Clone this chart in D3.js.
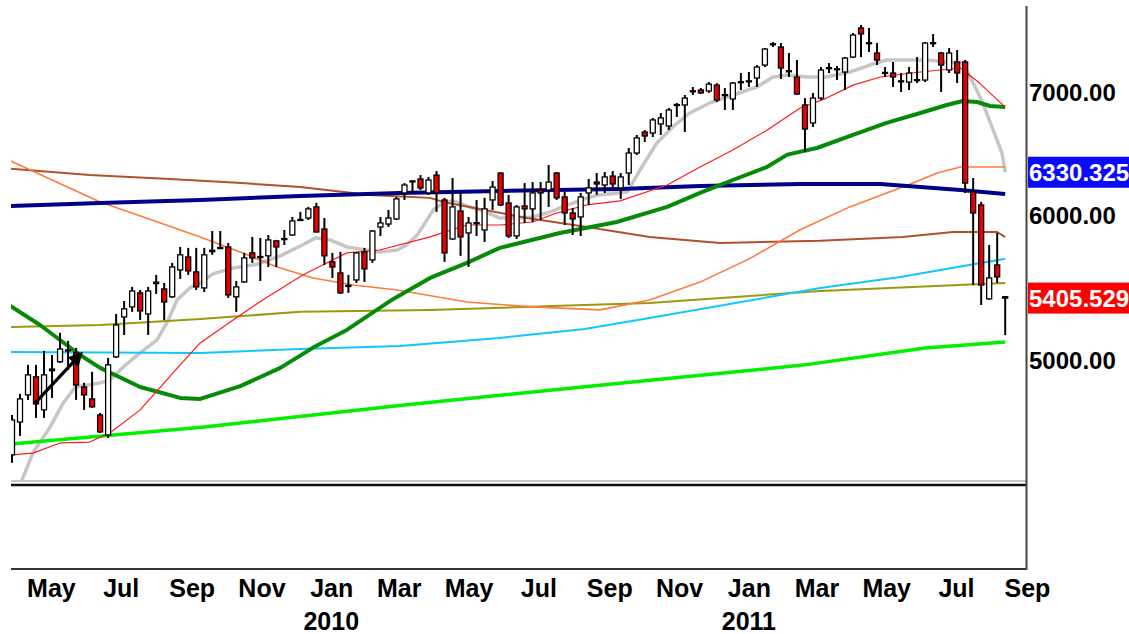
<!DOCTYPE html>
<html>
<head>
<meta charset="utf-8">
<script src="https://cdn.jsdelivr.net/npm/d3@7"></script>
<style>
  body { margin: 0; background: #ffffff; }
  svg { display: block; font-family: "Liberation Sans", Arial, sans-serif; }
</style>
</head>
<body>
<div id="chart"></div>
<script>

// weekly candles: [open, high, low, close]
var candles = [
  [4440,4668,4396,4639],[4627,4793,4547,4763],[4787,4971,4757,4909],[4897,4971,4651,4733],
  [4698,5059,4651,4909],[4945,5033,4769,4935],[4990,5175,4983,5071],[5065,5123,4940,5060],
  [5046,5078,4757,4847],[4835,4860,4698,4787],[4763,4928,4710,4716],[4668,4680,4564,4570],
  [4552,5015,4535,4971],[5021,5299,5015,5226],[5279,5386,5161,5333],[5346,5482,5313,5454],
  [5441,5461,5259,5319],[5299,5482,5161,5454],[5505,5565,5434,5515],[5468,5509,5259,5379],
  [5414,5650,5407,5621],[5600,5764,5537,5707],[5692,5757,5565,5593],[5586,5757,5461,5482],
  [5475,5757,5447,5707],[5730,5880,5707,5740],[5752,5880,5750,5760],[5764,5793,5407,5427],
  [5414,5523,5313,5482],[5516,5721,5510,5685],[5721,5837,5650,5685],[5690,5829,5523,5695],
  [5700,5851,5621,5815],[5808,5815,5621,5764],[5818,5888,5778,5825],[5851,5985,5845,5955],
  [5960,6023,5955,5966],[5977,6061,5962,6046],[6061,6092,5870,5873],[5895,5977,5635,5700],
  [5657,5721,5544,5621],[5579,5728,5434,5441],[5485,5565,5441,5492],[5530,5725,5509,5721],
  [5728,5757,5516,5607],[5671,5888,5650,5880],[5910,5985,5844,5940],[5932,6038,5910,5977],
  [5970,6137,5962,6122],[6168,6245,6114,6230],[6255,6265,6168,6262],[6277,6308,6191,6207],
  [6168,6293,6153,6269],[6308,6340,6023,6168],[6114,6130,5657,5721],[5822,6285,5815,6061],
  [6030,6176,5700,5837],[5866,5985,5621,5940],[5935,6114,5844,5942],[5888,6130,5800,6046],
  [6114,6261,6038,6214],[6324,6330,6068,6076],[6091,6153,5829,5844],[5844,6076,5822,6061],
  [6068,6245,5940,6046],[6046,6253,5947,6168],[6191,6253,5962,6168],[6191,6388,6061,6253],
  [6324,6332,6114,6130],[6137,6176,5925,6015],[6015,6053,5851,5970],[5985,6168,5844,6137],
  [6168,6277,6076,6207],[6253,6324,6153,6238],[6230,6332,6168,6293],[6300,6340,6207,6238],
  [6207,6324,6122,6293],[6324,6526,6230,6485],[6485,6634,6469,6609],[6658,6675,6575,6625],
  [6650,6777,6617,6760],[6726,6819,6634,6777],[6709,6862,6675,6845],[6885,6905,6785,6892],
  [6888,6975,6658,6948],[7005,7045,6975,7012],[7019,7036,6984,6993],[7010,7089,6993,7071],
  [7062,7080,6914,6931],[6970,7036,6845,6978],[6940,7089,6845,7080],[7085,7170,7019,7092],
  [7095,7179,7045,7100],[7125,7242,7045,7224],[7242,7398,7224,7389],[7430,7454,7408,7438],
  [7408,7445,7116,7215],[7185,7352,7134,7190],[7134,7288,6975,6984],[6888,6948,6494,6683],
  [6734,6993,6700,6948],[6948,7224,6931,7197],[7210,7260,7170,7218],[7200,7233,7107,7208],
  [7179,7315,7019,7306],[7315,7539,7306,7520],[7587,7615,7315,7530],[7440,7587,7362,7448],
  [7352,7445,7242,7288],[7168,7224,7134,7175],[7170,7270,7045,7134],[7095,7170,7001,7100],
  [7089,7224,7019,7170],[7105,7315,7080,7110],[7107,7454,7089,7445],[7440,7530,7408,7448],
  [7352,7362,7001,7242],[7197,7398,7170,7352],[7270,7380,7080,7170],[7270,7288,6168,6245],
  [6176,6285,5495,6015],[6076,6099,5359,5495],[5400,5778,5395,5544],[5635,5866,5509,5551],
  [5415,5420,5160,5405.529]
];

// moving averages, [week index, value]
var maGrey = [[0,4230],[1.25,4302],[2.6,4450],[4.7,4593],[6.4,4739],[7.9,4835],[11,4860],[12.2,4878],
  [13.9,4958],[16,5046],[18.1,5129],[19.4,5246],[20.6,5393],[22.2,5475],[23.5,5509],[25.1,5572],
  [27.6,5614],[30.6,5640],[33.5,5700],[36.3,5780],[37.9,5830],[39.7,5815],[41.8,5764],[44.2,5742],
  [45.9,5728],[48.1,5742],[49.3,5780],[50.6,5850],[52.6,6038],[54,6099],[55.1,6107],[56.8,6068],
  [58.8,6030],[60.9,5977],[63,5977],[65,5985],[67.2,6022],[68.4,6053],[71.8,6130],[73.4,6153],
  [76.8,6175],[78.4,6348],[80.5,6567],[82.5,6701],[84.6,6819],[87.1,6905],[90,6975],[93,7045],
  [95,7134],[96.8,7152],[99.3,7134],[101.7,7134],[104.6,7179],[107.1,7242],[109.2,7288],[114.2,7288],
  [116.7,7270],[118.7,7260],[120,7080],[121.2,6905],[122.5,6675],[123.6,6485],[124,6330.325]];

var maRed = [[0,4440],[2.6,4450],[6,4507],[9.7,4512],[12.2,4564],[16,4698],[20.1,4921],[23.5,5110],
  [27.6,5259],[31.3,5393],[36.3,5565],[41.8,5721],[45.9,5742],[52.2,5837],[56.8,5925],[60.9,5925],
  [65,5947],[68,6015],[71.8,6076],[75.9,6107],[81.8,6230],[85.9,6372],[90,6510],[94.3,6675],
  [98.4,6862],[101.7,6948],[105,7062],[108.4,7134],[113.4,7179],[118.4,7215],[120.8,7080],[124,6870]];

var maGreen = [[-0.2,5353],[3.5,5226],[8.5,5033],[11,4952],[16,4835],[21,4769],[23.5,4763],
  [28.5,4840],[33.5,4952],[37.6,5080],[41.8,5194],[47.6,5400],[52.2,5544],[56.8,5650],[60.9,5757],
  [68.4,5866],[75.5,5947],[81.8,6061],[85.9,6168],[90,6269],[94.3,6374],[96.8,6472],[100.5,6526],
  [105,6634],[109.2,6735],[113.4,6819],[116.7,6888],[118.7,6922],[120.5,6914],[122.1,6879],[124,6870]];

var maOrange = [[-0.2,6421],[11,6099],[16.4,5985],[23.5,5837],[28.8,5721],[33.1,5621],[37.6,5544],
  [42.6,5495],[48.1,5461],[56.8,5379],[65,5346],[73.4,5326],[79.6,5393],[85.9,5515],[92.1,5680],
  [98.4,5890],[104.6,6061],[109.2,6168],[112.5,6245],[115.5,6324],[118.4,6372],[124,6372]];

var maBrown = [[-0.2,6358],[9.7,6309],[19.7,6277],[28.7,6245],[36,6214],[44.7,6153],[52.2,6130],
  [53.8,6099],[64.3,5977],[71.8,5910],[79.6,5836],[88.4,5793],[100.9,5808],[111.2,5836],
  [117.5,5873],[123,5873],[124,5836]];

var maNavy = [[-0.2,6068],[11,6091],[23.5,6114],[36,6145],[48.4,6168],[60.9,6184],[75.9,6199],
  [85.9,6222],[98.4,6238],[108.4,6238],[113.4,6214],[118.4,6191],[124,6160]];

var maCyan = [[-0.2,5052],[23.5,5046],[36,5071],[48.4,5090],[60.9,5142],[71.5,5200],[79.6,5272],
  [100.9,5474],[110.9,5551],[124,5679]];

var maOlive = [[-0.2,5213],[11,5226],[23.5,5266],[36,5313],[52.2,5326],[68.4,5353],[79.6,5373],
  [100.9,5454],[124,5509]];

var maLime = [[-0.2,4501],[24,4598],[49,4727],[74,4848],[99,4971],[114,5078],[124,5116]];

// annotation arrow, [week index, value]
var arrowFrom = [2.9, 4739];
var arrowTo = [8.6, 5040];

var yTicks = [5000, 6000, 7000];
var priceFlags = [6330.325, 5405.529];
var monthTicks = ["2009-05","2009-07","2009-09","2009-11","2010-01","2010-03","2010-05",
  "2010-07","2010-09","2010-11","2011-01","2011-03","2011-05","2011-07","2011-09"];
var yearLabels = ["2010", "2011"];

var firstWeek = new Date(2009, 2, 28);
var dayMs = 864e5;

var svgWidth = 1129;
var svgHeight = 634;
var plot = { left: 11, right: 1026, top: 0, bottom: 483 };

var svg = d3.select("#chart")
  .append("svg")
  .attr("width", svgWidth)
  .attr("height", svgHeight);

svg.append("rect")
  .attr("width", svgWidth)
  .attr("height", svgHeight)
  .attr("fill", "#ffffff");

// scales
var x = d3.scaleTime()
  .domain([firstWeek, new Date(firstWeek.getTime() + 124 * 7 * dayMs)])
  .range([12, 1005.2]);

function wx(i) {
  return x(new Date(firstWeek.getTime() + i * 7 * dayMs));
}

var y = d3.scaleLog()
  .domain([4286, 7858])
  .range([plot.bottom, plot.top]);

svg.append("clipPath")
  .attr("id", "clip")
  .append("rect")
  .attr("x", plot.left)
  .attr("y", plot.top)
  .attr("width", plot.right - plot.left)
  .attr("height", 480);

var chartGroup = svg.append("g").attr("clip-path", "url(#clip)");

var line = d3.line()
  .x(d => wx(d[0]))
  .y(d => y(d[1]));

function drawMa(data, color, width) {
  chartGroup.append("path")
    .datum(data)
    .attr("d", line)
    .attr("fill", "none")
    .attr("stroke", color)
    .attr("stroke-width", width)
    .attr("stroke-linejoin", "round");
}

// moving averages under the candles
drawMa(maGrey, "#c6c6c6", 3.5);
drawMa(maLime, "#00f000", 3.5);
drawMa(maOlive, "#9a9a10", 2);
drawMa(maCyan, "#10c8ff", 2);
drawMa(maBrown, "#b0502c", 2);
drawMa(maOrange, "#ff7a3c", 1.6);
drawMa(maNavy, "#000088", 4);
drawMa(maGreen, "#078a07", 4);
drawMa(maRed, "#ff1a1a", 1.2);

// candles
var candleGroup = chartGroup.selectAll(".candle")
  .data(candles)
  .enter()
  .append("g")
  .attr("class", "candle");

candleGroup.append("line")
  .attr("x1", (d, i) => wx(i))
  .attr("x2", (d, i) => wx(i))
  .attr("y1", d => y(d[1]))
  .attr("y2", d => y(d[2]))
  .attr("stroke", "#000")
  .attr("stroke-width", 2);

candleGroup.append("rect")
  .attr("x", (d, i) => wx(i) - 2.5)
  .attr("y", d => y(Math.max(d[0], d[3])))
  .attr("width", 5)
  .attr("height", d => Math.max(1, Math.abs(y(d[0]) - y(d[3]))))
  .attr("fill", d => d[3] >= d[0] ? "#ffffff" : "#e80000")
  .attr("stroke", "#000")
  .attr("stroke-width", 1.3);

// arrow annotation
svg.append("defs").append("marker")
  .attr("id", "head")
  .attr("viewBox", "0 0 10 10")
  .attr("refX", 8)
  .attr("refY", 5)
  .attr("markerWidth", 4.5)
  .attr("markerHeight", 4.5)
  .attr("orient", "auto")
  .append("path")
  .attr("d", "M0,0L10,5L0,10z")
  .attr("fill", "#000");

svg.append("line")
  .attr("x1", wx(arrowFrom[0]))
  .attr("y1", y(arrowFrom[1]))
  .attr("x2", wx(arrowTo[0]))
  .attr("y2", y(arrowTo[1]))
  .attr("stroke", "#000")
  .attr("stroke-width", 3.2)
  .attr("marker-end", "url(#head)");

// frame: double line under the price panel, lower panel, right edge
svg.append("line")
  .attr("x1", plot.left).attr("x2", plot.right)
  .attr("y1", 481).attr("y2", 481)
  .attr("stroke", "#c8c8c8").attr("stroke-width", 2);
svg.append("line")
  .attr("x1", plot.left).attr("x2", plot.right + 1)
  .attr("y1", 485).attr("y2", 485)
  .attr("stroke", "#111").attr("stroke-width", 2.5);
svg.append("line")
  .attr("x1", plot.left).attr("x2", plot.right + 1)
  .attr("y1", 569).attr("y2", 569)
  .attr("stroke", "#333").attr("stroke-width", 2);
svg.append("line")
  .attr("x1", plot.right + 0.5).attr("x2", plot.right + 0.5)
  .attr("y1", 6).attr("y2", 570)
  .attr("stroke", "#444").attr("stroke-width", 2);

// right price axis
var rightAxis = d3.axisRight(y)
  .tickValues(yTicks)
  .tickFormat(d3.format(".2f"))
  .tickSize(0)
  .tickPadding(0);

var yAxisGroup = svg.append("g")
  .attr("transform", "translate(1029,0)")
  .call(rightAxis);
yAxisGroup.select(".domain").remove();
yAxisGroup.selectAll("text")
  .attr("font-family", "'Liberation Sans', Arial, sans-serif")
  .attr("font-size", "24px")
  .attr("font-weight", "bold")
  .attr("fill", "#000")
  .attr("dy", "0.36em");

// highlighted last values
var flagColors = ["#0a0aff", "#ff0000"];
var flags = svg.selectAll(".flag")
  .data(priceFlags)
  .enter()
  .append("g")
  .attr("class", "flag")
  .attr("transform", d => `translate(1028, ${y(d)})`);

flags.append("rect")
  .attr("x", 0)
  .attr("y", -15.5)
  .attr("width", 110)
  .attr("height", 31)
  .attr("fill", (d, i) => flagColors[i]);

flags.append("text")
  .attr("x", 1)
  .attr("dy", "0.36em")
  .attr("font-size", "24px")
  .attr("font-weight", "bold")
  .attr("fill", "#ffffff")
  .text(d => d3.format(".3f")(d));

// month axis
var parseMonth = d3.timeParse("%Y-%m");
var bottomAxis = d3.axisBottom(x)
  .tickValues(monthTicks.map(parseMonth))
  .tickFormat(d3.timeFormat("%b"))
  .tickSize(0)
  .tickPadding(0);

var xAxisGroup = svg.append("g")
  .attr("transform", "translate(0,597)")
  .call(bottomAxis);
xAxisGroup.select(".domain").remove();
xAxisGroup.selectAll("text")
  .attr("font-family", "'Liberation Sans', Arial, sans-serif")
  .attr("font-size", "25px")
  .attr("font-weight", "bold")
  .attr("fill", "#000")
  .attr("dy", 0);

svg.selectAll(".year")
  .data(yearLabels)
  .enter()
  .append("text")
  .attr("class", "year")
  .attr("x", d => x(new Date(+d, 0, 1)))
  .attr("y", 630)
  .attr("text-anchor", "middle")
  .attr("font-size", "25px")
  .attr("font-weight", "bold")
  .attr("fill", "#000")
  .text(d => d);

</script>
</body>
</html>
